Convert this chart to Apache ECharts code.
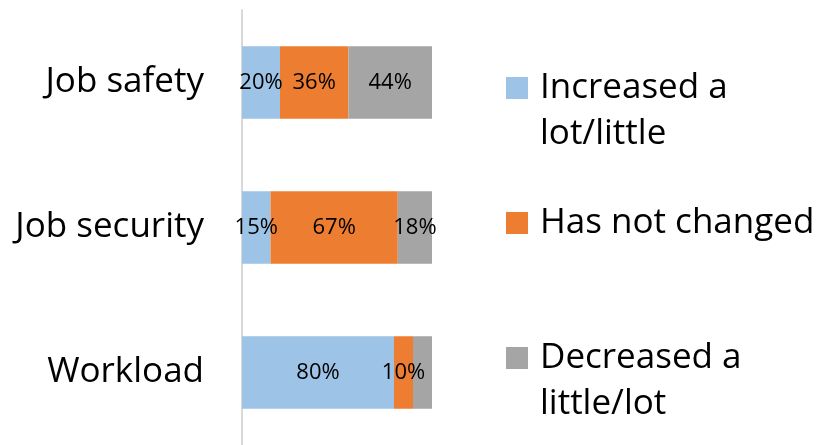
<!DOCTYPE html>
<html>
<head>
<meta charset="utf-8">
<script src="https://cdn.jsdelivr.net/npm/echarts@6/dist/echarts.min.js"></script>
<style>
  html, body { margin: 0; padding: 0; background: #fff; }
  #chart { width: 819px; height: 445px; }
</style>
</head>
<body>
<div id="chart"></div>
<script>
var categories = ['Job safety', 'Job security', 'Workload'];
var seriesNames = ['Increased a\nlot/little', 'Has not changed', 'Decreased a\nlittle/lot'];
var increased = [20, 15, 80];
var unchanged = [36, 67, 10];
var decreased = [44, 18, 10];
var colors = ['#9DC3E6', '#ED7D31', '#A5A5A5'];

var font = '"Open Sans", sans-serif';

function makeSeries(name, values, color, hideIdx) {
  return {
    name: name,
    type: 'bar',
    stack: 'total',
    barWidth: '50%',
    itemStyle: { color: color },
    label: {
      show: true,
      position: 'inside',
      formatter: '{c}%',
      color: '#000',
      fontSize: 22,
      fontFamily: font
    },
    data: values.map(function (v, i) {
      return i === hideIdx ? { value: v, label: { show: false } } : v;
    })
  };
}

// multi-line names get an empty first line so the icon sits beside line one
function makeLegend(name, top, multiline) {
  return {
    data: [name],
    orient: 'vertical',
    left: 506,
    top: top,
    padding: 0,
    itemWidth: 22,
    itemHeight: 22,
    icon: 'rect',
    formatter: function (n) { return multiline ? '\n' + n : n; },
    textStyle: {
      fontSize: 35,
      fontFamily: font,
      color: '#000',
      lineHeight: 46,
      padding: [0, 0, 0, 7]
    }
  };
}

var chart = echarts.init(document.getElementById('chart'));
chart.setOption({
  animation: false,
  grid: { left: 242, width: 190, top: 10, bottom: -5, containLabel: false },
  xAxis: { type: 'value', min: 0, max: 100, show: false },
  yAxis: {
    type: 'category',
    inverse: true,
    data: categories,
    axisLine: { show: true, lineStyle: { color: '#D9D9D9', width: 2 } },
    axisTick: { show: false },
    axisLabel: { color: '#000', fontSize: 35, fontFamily: font, margin: 38 }
  },
  legend: [
    makeLegend(seriesNames[0], 19, true),
    makeLegend(seriesNames[1], 200, false),
    makeLegend(seriesNames[2], 289, true)
  ],
  series: [
    makeSeries(seriesNames[0], increased, colors[0], -1),
    makeSeries(seriesNames[1], unchanged, colors[1], -1),
    makeSeries(seriesNames[2], decreased, colors[2], 2)
  ]
});
</script>
</body>
</html>
